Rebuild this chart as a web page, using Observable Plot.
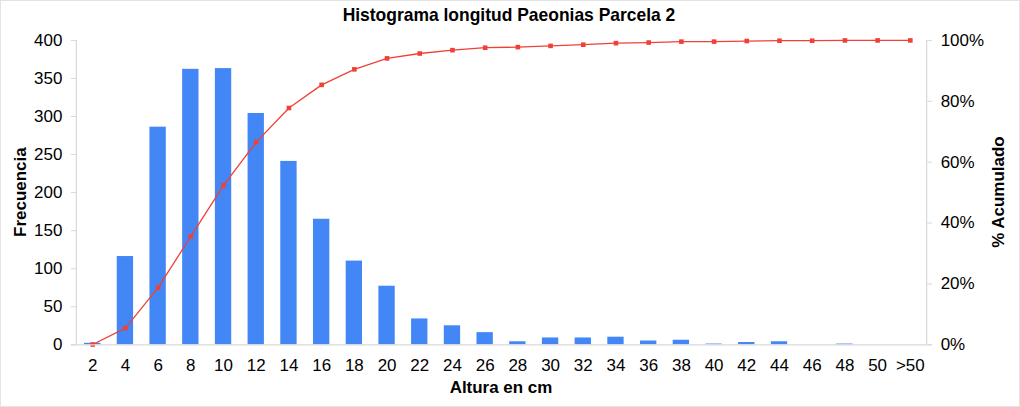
<!DOCTYPE html>
<html>
<head>
<meta charset="utf-8">
<script src="https://cdn.jsdelivr.net/npm/d3@7"></script>
<script src="https://cdn.jsdelivr.net/npm/@observablehq/plot@0.6"></script>
<style>
  html, body { margin: 0; padding: 0; background: #fff; }
  #chart { width: 1020px; height: 407px; box-sizing: border-box; border: 1px solid #e3e3e3; position: relative; overflow: hidden; }
  #chart svg { position: absolute; left: -1px; top: -1px; }
</style>
</head>
<body>
<div id="chart"></div>
<script>
const categories = ["2","4","6","8","10","12","14","16","18","20","22","24","26","28","30","32","34","36","38","40","42","44","46","48","50",">50"];
const frecuencia = [2,116,286,362,363,304,241,165,110,77,34,25,16,4,9,9,10,5,6,1,3,4,0,1,0,0];
const acumulado = [0.1,5.5,18.8,35.6,52.4,66.6,77.8,85.4,90.5,94.1,95.7,96.8,97.6,97.8,98.2,98.6,99.1,99.3,99.6,99.6,99.8,99.9,99.9,100,100,100];
const yTicks = [0,50,100,150,200,250,300,350,400];
const pctTicks = [0,20,40,60,80,100];

const title = "Histograma longitud Paeonias Parcela 2";
const xLabel = "Altura en cm";
const yLabel = "Frecuencia";
const y2Label = "% Acumulado";

const rows = categories.map((c, i) => ({cat: c, freq: frecuencia[i], pct: acumulado[i]}));
const FONT = "'Liberation Sans', Arial, Helvetica, sans-serif";
const axisColor = "#d9d9d9";

const W = 1020, H = 407;
const mL = 76, mR = 92, mT = 40, mB = 62;

const plot = Plot.plot({
  width: W,
  height: H,
  marginLeft: mL,
  marginRight: mR,
  marginTop: mT,
  marginBottom: mB,
  style: {fontFamily: FONT, fontSize: "17px", color: "#000", background: "transparent", overflow: "visible"},
  x: {type: "band", domain: categories, padding: 0, round: false, label: null},
  y: {domain: [0, 400], label: null},
  marks: [
    Plot.barY(rows, {x: "cat", y: "freq", fill: "#4287f5", insetLeft: 8.2, insetRight: 8.2}),
    Plot.axisY(yTicks, {anchor: "left", tickSize: 5, tickPadding: 9, stroke: axisColor, label: null, fontSize: 17}),
    Plot.axisY(pctTicks.map(p => p * 4), {anchor: "right", tickSize: 5, tickPadding: 9, stroke: axisColor, label: null, fontSize: 17, tickFormat: d => (d / 4) + "%"}),
    Plot.axisX({tickSize: 0, tickPadding: 14, label: null, fontSize: 17}),
    Plot.line(rows, {x: "cat", y: d => d.pct * 4, stroke: "#ef4136", strokeWidth: 1.3}),
    Plot.dot(rows, {x: "cat", y: d => d.pct * 4, symbol: "square", r: 2.6, fill: "#ef4136", stroke: "none"})
  ]
});

const svg = d3.select(plot);
// axis lines
svg.append("line").attr("x1", mL + 0.5).attr("x2", mL + 0.5).attr("y1", mT).attr("y2", H - mB).attr("stroke", axisColor).attr("stroke-width", 1.2);
svg.append("line").attr("x1", W - mR + 0.5).attr("x2", W - mR + 0.5).attr("y1", mT).attr("y2", H - mB).attr("stroke", axisColor).attr("stroke-width", 1.2);
svg.append("line").attr("x1", mL - 5).attr("x2", W - mR + 5).attr("y1", H - mB + 0.5).attr("y2", H - mB + 0.5).attr("stroke", axisColor).attr("stroke-width", 1.2);

svg.append("text").attr("x", 510).attr("y", 21).attr("text-anchor", "middle")
  .attr("font-family", FONT).attr("font-size", 17.5).attr("font-weight", "bold").text(title);
svg.append("text").attr("x", (mL + W - mR) / 2).attr("y", 394).attr("text-anchor", "middle")
  .attr("font-family", FONT).attr("font-size", 17).attr("font-weight", "bold").text(xLabel);
svg.append("text").attr("transform", `translate(26,${(mT + H - mB) / 2}) rotate(-90)`).attr("text-anchor", "middle")
  .attr("font-family", FONT).attr("font-size", 17).attr("font-weight", "bold").text(yLabel);
svg.append("text").attr("transform", `translate(1006,${(mT + H - mB) / 2}) rotate(-90)`).attr("text-anchor", "middle")
  .attr("font-family", FONT).attr("font-size", 17).attr("font-weight", "bold").text(y2Label);

document.getElementById("chart").appendChild(plot);
</script>
</body>
</html>
